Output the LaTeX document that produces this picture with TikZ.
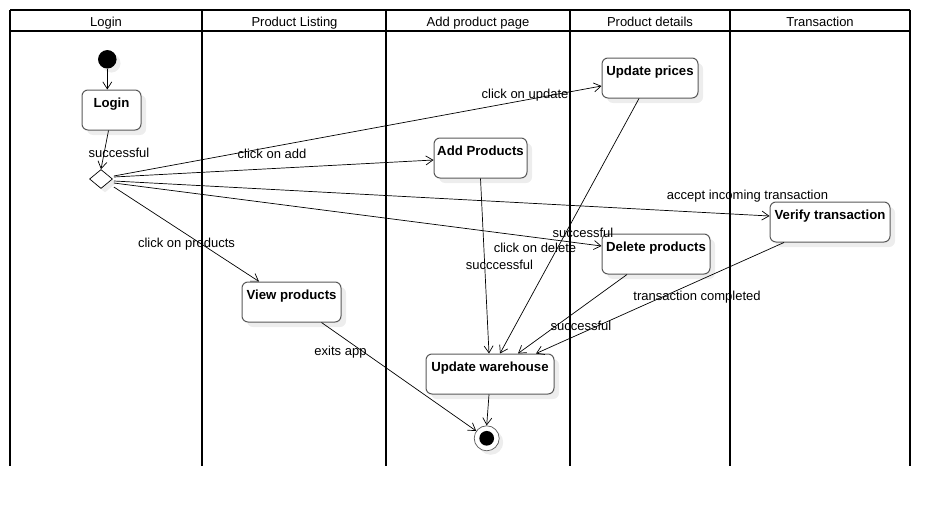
\documentclass[tikz,border=0pt]{standalone}
\usepackage{fontspec}
\setmainfont{Liberation Sans}
\usetikzlibrary{arrows.meta,shapes.geometric,shadows,calc}
\begin{document}
\begin{tikzpicture}[x=1pt,y=-1pt,
  every node/.style={font=\fontsize{13}{15}\selectfont},
  lane/.style={line width=1.8pt,black},
  act/.style={draw=black!65,line width=1pt,fill=white,rounded corners=6pt,
    minimum height=40pt,inner xsep=3pt,inner ysep=4pt,text height=13pt,text depth=19pt,
    font=\fontsize{13.2}{15}\selectfont\bfseries,
    drop shadow={shadow xshift=5pt,shadow yshift=-5pt,fill=black!7,opacity=1}},
  edge/.style={line width=0.7pt,-{Straight Barb[length=7pt,width=9pt]}},
  lbl/.style={inner sep=0pt,anchor=base},
  hdr/.style={inner sep=0pt,anchor=base}]
\useasboundingbox (0,0) rectangle (950,506);
% swimlanes
\draw[lane] (10,10) -- (910,10);
\draw[lane] (10,31) -- (910,31);
\foreach \xx in {10,202,386,570,730,910}{\draw[lane] (\xx,10) -- (\xx,466);}
\node[hdr] (h1) at (106,26.3) {Login};
\node[hdr] (h2) at (294.5,26.3) {Product Listing};
\node[hdr] (h3) at (478,26.3) {Add product page};
\node[hdr] (h4) at (650,26.3) {Product details};
\node[hdr] (h5) at (820,26.3) {Transaction};
% nodes
\node[circle,fill=black,minimum size=18.5pt,inner sep=0pt,
  drop shadow={shadow xshift=4pt,shadow yshift=-4pt,fill=black!7,opacity=1}] (init) at (107.3,59.3) {};
\node[act,minimum width=59pt] (login) at (111.5,110) {Login};
\node[diamond,draw=black,line width=0.7pt,fill=white,minimum width=23pt,minimum height=19pt,inner sep=0pt,
  drop shadow={shadow xshift=4pt,shadow yshift=-4pt,fill=black!7,opacity=1}] (dia) at (101,179) {};
\node[act,minimum width=96pt] (up) at (650,78) {Update prices};
\node[act,minimum width=93pt] (add) at (480.5,158) {Add Products};
\node[act,minimum width=120pt] (ver) at (830,222) {Verify transaction};
\node[act,minimum width=108pt] (del) at (656,254) {Delete products};
\node[act,minimum width=99pt] (view) at (291.5,302) {View products};
\node[act,minimum width=128pt] (uw) at (490,374) {Update warehouse};
\node[circle,draw=black!65,line width=0.7pt,fill=white,minimum size=25pt,inner sep=0pt,
  drop shadow={shadow xshift=4pt,shadow yshift=-4pt,fill=black!7,opacity=1}] (fin) at (486.7,438.3) {};
\node[circle,fill=black,minimum size=14.7pt,inner sep=0pt] (fini) at (fin.center) {};
% edges
\draw[edge] (init) -- (init |- login.north);
\draw[edge] ($(login.south)+(-3,0)$) -- (dia.north);
\draw[edge] ($(dia.east)+(1,-3)$) -- ($(up.west)+(0,8)$);
\draw[edge] ($(dia.east)+(1,-2)$) -- ($(add.west)+(0,2)$);
\draw[edge] ($(dia.east)+(1,2)$) -- ($(ver.west)+(0,-6)$);
\draw[edge] ($(dia.east)+(1,4)$) -- ($(del.west)+(0,-8)$);
\draw[edge] ($(dia.east)+(1,8)$) -- ($(view.north)+(-32.5,0)$);
\draw[edge] (add.south) -- ($(uw.north)+(-1,0)$);
\draw[edge] ($(up.south)+(-11,0)$) -- ($(uw.north)+(10,0)$);
\draw[edge] ($(del.south)+(-29,0)$) -- ($(uw.north)+(28,0)$);
\draw[edge] ($(ver.south)+(-46,0)$) -- ($(uw.north)+(46,0)$);
\draw[edge] ($(uw.south)+(-1,0)$) -- (fin.north);
\draw[edge] ($(view.south)+(30,0)$) -- (fin.145);
% labels
\node[lbl] (l1) at (119,157.5) {successful};
\node[lbl] (l2) at (272,158.5) {click on add};
\node[lbl] (l3) at (525,98.5) {click on update};
\node[lbl] (l4) at (747.5,199.5) {accept incoming transaction};
\node[lbl] (l5) at (535,252.5) {click on delete};
\node[lbl] (l6) at (583,237.5) {successful};
\node[lbl] (l7) at (499.5,269.5) {succcessful};
\node[lbl] (l8) at (186.5,247.5) {click on products};
\node[lbl] (l9) at (697,300.5) {transaction completed};
\node[lbl] (l10) at (581,330.5) {successful};
\node[lbl] (l11) at (340.5,355.5) {exits app};
\end{tikzpicture}
\end{document}
